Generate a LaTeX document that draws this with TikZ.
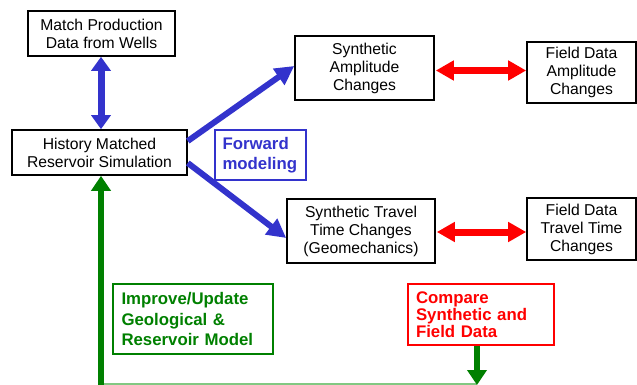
\documentclass[tikz,border=0pt]{standalone}
\usepackage{fontspec}
\setmainfont{Liberation Sans}
\usetikzlibrary{arrows.meta}
\definecolor{myblue}{RGB}{51,51,204}
\definecolor{mygreen}{RGB}{0,128,0}
\definecolor{mylightgreen}{RGB}{130,200,130}
\definecolor{myred}{RGB}{255,0,0}
\tikzset{
  box/.style={draw=black, line width=1.6pt, align=center, inner sep=0pt,
    font=\fontsize{15.7}{18}\selectfont},
  lbl/.style={line width=1.4pt, align=left, inner sep=0pt,
    font=\fontsize{16.8}{20.5}\selectfont\bfseries},
  bluearrow/.style={draw=myblue, line width=6pt,
    -{Triangle[length=19pt,width=19pt]}},
  bluedbl/.style={draw=myblue, line width=7pt,
    {Triangle[length=14pt,width=19pt]}-{Triangle[length=14pt,width=19pt]}},
  reddbl/.style={draw=myred, line width=7pt,
    {Triangle[length=18pt,width=19pt]}-{Triangle[length=18pt,width=19pt]}},
  greenarrow/.style={draw=mygreen, line width=6pt,
    -{Triangle[length=15pt,width=19pt]}},
}
\begin{document}
\begin{tikzpicture}[x=1pt,y=-1pt]
\useasboundingbox (0,0) rectangle (637,385);
% boxes
\node[box, minimum width=147pt, minimum height=45pt] (match) at (101.5,33.5)
  {Match Production\\Data from Wells};
\node[box, minimum width=175pt, minimum height=45pt] (hm) at (99.5,152.5)
  {History Matched\\Reservoir Simulation};
\node[box, minimum width=139pt, minimum height=64pt] (sa) at (364.5,68)
  {Synthetic\\Amplitude\\Changes};
\node[box, minimum width=109pt, minimum height=61pt] (fa) at (581.5,72.5)
  {Field Data\\Amplitude\\Changes};
\node[box, minimum width=148pt, minimum height=64pt] (st) at (361,231)
  {Synthetic Travel\\Time Changes\\(Geomechanics)};
\node[box, minimum width=109pt, minimum height=62pt] (ft) at (581.5,229)
  {Field Data\\Travel Time\\Changes};
% labels
\node[lbl, draw=myblue, text=myblue, minimum width=91pt, minimum height=50pt,
  text width=76pt] (fwd) at (260.5,155) {Forward\\modeling};
\node[lbl, draw=myred, text=myred, minimum width=146pt, minimum height=61pt,
  text width=130pt, font=\fontsize{16.8}{17}\selectfont\bfseries] (cmp) at (481,314.5)
  {Compare\\Synthetic and\\Field Data};
\node[lbl, draw=mygreen, text=mygreen, minimum width=160pt, minimum height=70pt,
  text width=143pt] (imp) at (193,319) {Improve/Update\\Geological \&\\Reservoir Model};
% coordinates for the feedback loop
\coordinate (bl) at (101,383.5);
\coordinate (br) at (477,383.5);
\coordinate (bup) at (101,386);
\coordinate (bdown) at (477,385);
% connectors
\draw[bluedbl] (match.south -| 101,0) -- (hm.north -| 101,0);
\draw[bluearrow] (hm.east |- 0,141) -- (sa.west |- 0,66);
\draw[bluearrow] (hm.east |- 0,163) -- (st.west |- 0,238);
\draw[reddbl] ([xshift=1pt]sa.east |- 0,70.5) -- (fa.west |- 0,70.5);
\draw[reddbl] ([xshift=1pt]st.east |- 0,232) -- (ft.west |- 0,232);
\draw[draw=mylightgreen, line width=2pt] (bl) -- (br);
\draw[greenarrow] (bup) -- (hm.south -| bup);
\draw[greenarrow] (cmp.south -| bdown) -- (bdown);
\end{tikzpicture}
\end{document}
